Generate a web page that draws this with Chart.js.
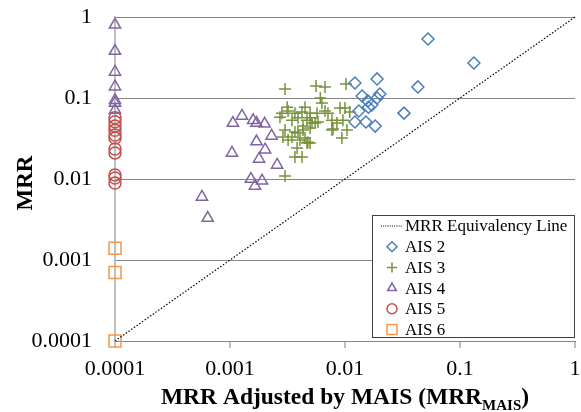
<!DOCTYPE html>
<html lang="en">
<head>
    <meta charset="UTF-8">
    <title>MRR vs MRR adjusted by MAIS</title>
    <script src="https://cdn.jsdelivr.net/npm/chart.js"></script>
    <style>
        body {
            margin: 0;
            background-color: #ffffff;
        }

        #chart-container {
            width: 581px;
            height: 412px;
        }
    </style>
</head>
<body>
    <div id="chart-container">
        <canvas id="mrrChart"></canvas>
    </div>

    <script>
        // axis ticks (both axes are log, one decade per tick)
        const tickValues = [0.0001, 0.001, 0.01, 0.1, 1];
        const tickLabels = ['0.0001', '0.001', '0.01', '0.1', '1'];

        // MRR equivalency line end points
        const lineX = [0.0001, 1];
        const lineY = [0.0001, 1];

        // AIS 2
        const ais2X = [0.0527, 0.132, 0.0122, 0.019, 0.043, 0.0141, 0.0201, 0.019, 0.0158, 0.0171, 0.016, 0.0132, 0.0326, 0.0122, 0.0152, 0.0183];
        const ais2Y = [0.535, 0.27, 0.153, 0.172, 0.137, 0.106, 0.112, 0.1, 0.092, 0.082, 0.077, 0.069, 0.065, 0.0506, 0.0506, 0.045];

        // AIS 3
        const ais3X = [0.00301, 0.0056, 0.0067, 0.0102, 0.0061, 0.0063, 0.00314, 0.00283, 0.0032, 0.00367,
                       0.00423, 0.00449, 0.00497, 0.00571, 0.0067, 0.00711, 0.00906, 0.01, 0.00272, 0.0039,
                       0.00346, 0.00467, 0.00516, 0.00582, 0.00497, 0.0055, 0.00431, 0.00497, 0.0077, 0.0085,
                       0.0096, 0.00787, 0.00301, 0.00367, 0.00431, 0.0039, 0.00289, 0.00346, 0.0032, 0.00406,
                       0.00449, 0.00467, 0.00476, 0.0094, 0.0104, 0.0077, 0.00383, 0.00497, 0.00367, 0.00423,
                       0.00301, 0.011];
        const ais3Y = [0.129, 0.141, 0.137, 0.149, 0.1, 0.087, 0.077, 0.065, 0.069, 0.065,
                       0.067, 0.077, 0.065, 0.065, 0.069, 0.065, 0.075, 0.075, 0.058, 0.057,
                       0.053, 0.053, 0.049, 0.0506, 0.057, 0.049, 0.045, 0.0426, 0.053, 0.049,
                       0.053, 0.0414, 0.0403, 0.038, 0.0403, 0.037, 0.033, 0.033, 0.0303, 0.0303,
                       0.032, 0.0278, 0.0285, 0.032, 0.0403, 0.0403, 0.0241, 0.0278, 0.0187, 0.0187,
                       0.0109, 0.067];

        // AIS 4
        const ais4X = [0.0001, 0.0001, 0.0001, 0.0001, 0.0001, 0.0001, 0.0001,
                       0.00106, 0.00127, 0.00159, 0.0017, 0.002, 0.0023, 0.0017, 0.00202, 0.00179,
                       0.00104, 0.00257, 0.00152, 0.0019, 0.00165, 0.00057, 0.00064];
        const ais4Y = [0.8, 0.38, 0.21, 0.138, 0.094, 0.087, 0.071,
                       0.049, 0.06, 0.053, 0.049, 0.048, 0.034, 0.029, 0.023, 0.0177,
                       0.021, 0.0149, 0.01, 0.0095, 0.0082, 0.006, 0.0033];

        // AIS 5
        const ais5X = [0.0001, 0.0001, 0.0001, 0.0001, 0.0001, 0.0001, 0.0001, 0.0001, 0.0001, 0.0001, 0.0001];
        const ais5Y = [0.057, 0.051, 0.045, 0.04, 0.035, 0.032, 0.0235, 0.021, 0.0112, 0.0103, 0.0089];

        // AIS 6
        const ais6X = [0.0001, 0.0001, 0.0001];
        const ais6Y = [0.0014, 0.0007, 0.0001];

        const toPoints = (xs, ys) => xs.map((x, i) => ({ x: x, y: ys[i] }));

        const serif = '"Liberation Serif", "Times New Roman", serif';

        function markerSet(label, xs, ys, style, radius, color) {
            return {
                label: label,
                data: toPoints(xs, ys),
                pointStyle: style,
                pointRadius: radius,
                pointHoverRadius: radius,
                pointBorderWidth: 1.5,
                borderColor: color,
                backgroundColor: 'rgba(0,0,0,0)',
                showLine: false,
                clip: false
            };
        }

        const datasets = [
            {
                label: 'MRR Equivalency Line',
                data: toPoints(lineX, lineY),
                showLine: true,
                borderColor: '#000000',
                borderWidth: 1.2,
                borderDash: [1.5, 1.8],
                pointRadius: 0,
                fill: false,
                clip: false
            },
            markerSet('AIS 2', ais2X, ais2Y, 'rectRot', 6, '#4A7EBB'),
            markerSet('AIS 3', ais3X, ais3Y, 'cross', 6, '#77933C'),
            markerSet('AIS 4', ais4X, ais4Y, 'triangle', 6.5, '#8064A2'),
            markerSet('AIS 5', ais5X, ais5Y, 'circle', 6, '#C0504D'),
            markerSet('AIS 6', ais6X, ais6Y, 'rect', 8.5, '#F79646')
        ];

        // axis titles, x title has a subscript
        const titlesPlugin = {
            id: 'axisTitles',
            afterDraw(chart) {
                const ctx = chart.ctx;
                const area = chart.chartArea;
                ctx.save();
                ctx.fillStyle = '#000000';
                ctx.font = 'bold 23px ' + serif;
                ctx.textAlign = 'center';
                ctx.textBaseline = 'middle';
                ctx.translate(26, (area.top + area.bottom) / 2 + 4);
                ctx.rotate(-Math.PI / 2);
                ctx.fillText('MRR', 0, 0);
                ctx.restore();

                ctx.save();
                ctx.fillStyle = '#000000';
                ctx.textBaseline = 'alphabetic';
                ctx.textAlign = 'left';
                const main = 'MRR Adjusted by MAIS (MRR';
                const sub = 'MAIS';
                const close = ')';
                const mainFont = 'bold 23.5px ' + serif;
                const subFont = 'bold 15px ' + serif;
                ctx.font = mainFont;
                const wMain = ctx.measureText(main).width;
                const wClose = ctx.measureText(close).width;
                ctx.font = subFont;
                const wSub = ctx.measureText(sub).width;
                let x = (area.left + area.right) / 2 - (wMain + wSub + wClose) / 2;
                const base = 404;
                ctx.font = mainFont;
                ctx.fillText(main, x, base);
                x += wMain;
                ctx.font = subFont;
                ctx.fillText(sub, x, base + 6);
                x += wSub;
                ctx.font = mainFont;
                ctx.fillText(close, x, base);
                ctx.restore();
            }
        };

        // boxed legend in the lower right of the plot
        const boxLegendPlugin = {
            id: 'boxLegend',
            afterDraw(chart) {
                const ctx = chart.ctx;
                const area = chart.chartArea;
                const right = area.right;
                const bottom = area.bottom - 3;
                const width = 203;
                const height = 123;
                const left = right - width;
                const top = bottom - height;
                const rowGap = 20.7;

                ctx.save();
                ctx.fillStyle = '#ffffff';
                ctx.fillRect(left, top, width, height);
                ctx.strokeStyle = '#404040';
                ctx.lineWidth = 1;
                ctx.strokeRect(left + 0.5, top + 0.5, width - 1, height - 1);

                ctx.font = '17px ' + serif;
                ctx.textBaseline = 'middle';
                ctx.textAlign = 'left';

                chart.data.datasets.forEach((ds, i) => {
                    const y = top + 11 + i * rowGap;
                    const mx = left + 20;
                    if (ds.showLine) {
                        ctx.save();
                        ctx.strokeStyle = ds.borderColor;
                        ctx.lineWidth = 1;
                        ctx.setLineDash([1, 1.2]);
                        ctx.beginPath();
                        ctx.moveTo(left + 9, y);
                        ctx.lineTo(left + 30, y);
                        ctx.stroke();
                        ctx.restore();
                    } else {
                        ctx.save();
                        ctx.strokeStyle = ds.borderColor;
                        ctx.fillStyle = 'rgba(0,0,0,0)';
                        ctx.lineWidth = 1.5;
                        Chart.helpers.drawPoint(ctx, {
                            pointStyle: ds.pointStyle,
                            radius: ds.pointStyle === 'rect' ? 7 : 5,
                            rotation: 0,
                            borderWidth: 1.5
                        }, mx, y);
                        ctx.restore();
                    }
                    ctx.fillStyle = '#000000';
                    ctx.fillText(ds.label, left + 33, y + 1);
                });
                ctx.restore();
            }
        };

        const tickFont = { family: serif, size: 22 };

        const config = {
            type: 'scatter',
            data: { datasets: datasets },
            options: {
                responsive: true,
                maintainAspectRatio: false,
                animation: false,
                events: [],
                layout: {
                    // markers sit on the axes, so no automatic room for them
                    autoPadding: false,
                    padding: { top: 17, right: 6, left: 0, bottom: 0 }
                },
                plugins: {
                    legend: { display: false },
                    tooltip: { enabled: false }
                },
                scales: {
                    x: {
                        type: 'logarithmic',
                        min: 0.0001,
                        max: 1,
                        afterBuildTicks: scale => {
                            scale.ticks = tickValues.map(v => ({ value: v }));
                        },
                        afterFit: scale => {
                            scale.height = 71;
                            scale.paddingLeft = 0;
                            scale.paddingRight = 0;
                        },
                        ticks: {
                            callback: (value, index) => tickLabels[index],
                            font: tickFont,
                            color: '#000000',
                            padding: 8,
                            maxRotation: 0,
                            autoSkip: false
                        },
                        grid: {
                            drawOnChartArea: false,
                            drawTicks: true,
                            tickLength: 7,
                            color: '#bfbfbf',
                            lineWidth: 2
                        },
                        border: { color: '#868686', width: 1 }
                    },
                    y: {
                        type: 'logarithmic',
                        min: 0.0001,
                        max: 1,
                        afterBuildTicks: scale => {
                            scale.ticks = tickValues.map(v => ({ value: v }));
                        },
                        afterFit: scale => {
                            scale.width = 115;
                            scale.paddingTop = 0;
                            scale.paddingBottom = 0;
                        },
                        ticks: {
                            callback: (value, index) => tickLabels[index],
                            font: tickFont,
                            color: '#000000',
                            padding: 23,
                            autoSkip: false
                        },
                        grid: {
                            drawTicks: false,
                            color: '#868686',
                            lineWidth: 1
                        },
                        border: { color: '#bfbfbf', width: 2 }
                    }
                }
            },
            plugins: [titlesPlugin, boxLegendPlugin]
        };

        const mrrChart = new Chart(document.getElementById('mrrChart').getContext('2d'), config);
    </script>
</body>
</html>
